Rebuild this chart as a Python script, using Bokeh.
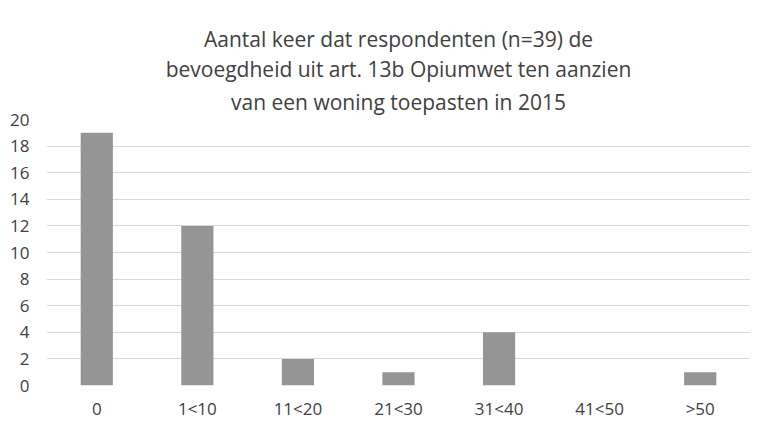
from bokeh.plotting import figure
from bokeh.models import ColumnDataSource, Title, Range1d, FactorRange, FixedTicker
from bokeh.embed import file_html
from bokeh.resources import INLINE

categories = ["0", "1<10", "11<20", "21<30", "31<40", "41<50", ">50"]
counts = [19, 12, 2, 1, 4, 0, 1]
title_lines = ["Aantal keer dat respondenten (n=39) de",
               "bevoegdheid uit art. 13b Opiumwet ten aanzien",
               "van een woning toepasten in 2015"]
y_ticks = [0, 2, 4, 6, 8, 10, 12, 14, 16, 18, 20]

FONT = "Open Sans"
TXT = "#404040"

source = ColumnDataSource(data=dict(cat=categories, n=counts))

p = figure(x_range=FactorRange(*categories), y_range=Range1d(0, 20),
           width=759, height=422, output_backend="svg", toolbar_location=None,
           min_border_left=46, min_border_right=9, min_border_top=0, min_border_bottom=0)
p.title = None
for i, line in enumerate(reversed(title_lines)):
    t = Title(text=line, align="center", text_font=FONT, text_font_size="21px",
              text_font_style="normal", text_color=TXT,
              standoff=(7 if i == 0 else 0), offset=0)
    p.add_layout(t, "above")
# blank spacer above the title
p.add_layout(Title(text=" ", text_font_size="18px", standoff=0), "above")

p.vbar(x="cat", top="n", width=0.32, source=source, fill_color="#959595", line_color=None)

p.outline_line_color = None
p.xgrid.grid_line_color = None
p.ygrid.grid_line_color = "#d9d9d9"
p.ygrid.grid_line_width = 1
p.yaxis.ticker = FixedTicker(ticks=y_ticks)
for ax in (p.xaxis[0], p.yaxis[0]):
    ax.axis_line_color = None
    ax.major_tick_line_color = None
    ax.minor_tick_line_color = None
    ax.major_tick_out = 0
    ax.major_tick_in = 0
    ax.minor_tick_out = 0
    ax.minor_tick_in = 0
    ax.major_label_text_font = FONT
    ax.major_label_text_font_size = "17px"
    ax.major_label_text_color = TXT
p.xaxis.major_label_standoff = 11
p.yaxis.major_label_standoff = 17
p.x_range.range_padding = 0
p.background_fill_color = "white"

open("out.html", "w").write(file_html(p, INLINE))
